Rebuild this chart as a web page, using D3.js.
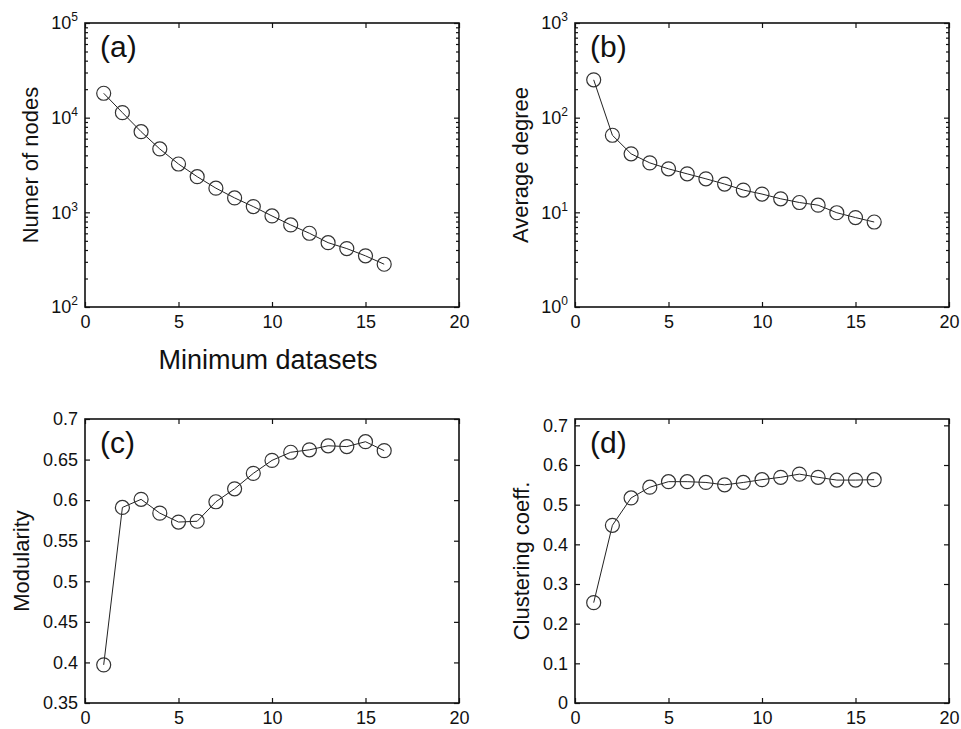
<!DOCTYPE html>
<html>
<head>
<meta charset="utf-8">
<script src="https://cdn.jsdelivr.net/npm/d3@7"></script>
<style>
  body { margin: 0; background: #fff; }
  svg { font-family: "Liberation Sans", Arial, Helvetica, sans-serif; }
  .tick text { font-size: 18px; fill: #111; }
</style>
</head>
<body>
<div id="chart-area"></div>
<script>
// data
var datasets = [1, 2, 3, 4, 5, 6, 7, 8, 9, 10, 11, 12, 13, 14, 15, 16];
var nodes = [18100, 11300, 7110, 4670, 3240, 2380, 1800, 1420, 1150, 916, 736, 601, 478, 414, 347, 283];
var degree = [251, 65.2, 41.5, 33.3, 28.8, 25.5, 22.6, 19.9, 17.2, 15.6, 13.9, 12.7, 11.9, 9.9, 8.8, 7.9];
var modularity = [0.397, 0.591, 0.601, 0.584, 0.573, 0.574, 0.598, 0.614, 0.633, 0.649, 0.659, 0.662, 0.667, 0.666, 0.672, 0.661];
var clustering = [0.253, 0.448, 0.517, 0.544, 0.558, 0.558, 0.556, 0.550, 0.556, 0.563, 0.569, 0.577, 0.569, 0.562, 0.562, 0.563];

var xTicks = [0, 5, 10, 15, 20];
var nodeTicks = [100, 1000, 10000, 100000];
var degreeTicks = [1, 10, 100, 1000];
var modTicks = [0.35, 0.4, 0.45, 0.5, 0.55, 0.6, 0.65, 0.7];
var clusTicks = [0, 0.1, 0.2, 0.3, 0.4, 0.5, 0.6, 0.7];

var width = 961;
var height = 729;

var svg = d3.select("#chart-area").append("svg")
	.attr("width", width)
	.attr("height", height);

var panels = [
	{left: 85, top: 23, w: 374, h: 284, values: nodes, log: true, domain: [100, 100000], ticks: nodeTicks,
	 tag: "(a)", label: "Numer of nodes", labelX: -47},
	{left: 575, top: 23, w: 374, h: 284, values: degree, log: true, domain: [1, 1000], ticks: degreeTicks,
	 tag: "(b)", label: "Average degree", labelX: -47},
	{left: 85, top: 419, w: 374, h: 284, values: modularity, log: false, domain: [0.35, 0.7], ticks: modTicks,
	 tag: "(c)", label: "Modularity", labelX: -56},
	{left: 575, top: 419, w: 374, h: 284, values: clustering, log: false, domain: [0, 0.716], ticks: clusTicks,
	 tag: "(d)", label: "Clustering coeff.", labelX: -46}
];

function minorTicks(domain) {
	var out = [];
	for (var p = domain[0]; p < domain[1]; p *= 10) {
		for (var k = 2; k <= 9; k++) out.push(p * k);
	}
	return out;
}

panels.forEach(function(p) {
	var g = svg.append("g")
		.attr("transform", "translate(" + p.left + "," + p.top + ")");

	var x = d3.scaleLinear().domain([0, 20]).range([0, p.w]);
	var y = (p.log ? d3.scaleLog() : d3.scaleLinear())
		.domain(p.domain)
		.range([p.h, 0]);

	// x axes, ticks pointing inwards
	g.append("g")
		.attr("class", "x axis")
		.attr("transform", "translate(0," + p.h + ")")
		.call(d3.axisBottom(x).tickValues(xTicks).tickSizeInner(-5).tickSizeOuter(0).tickPadding(8)
			.tickFormat(d3.format("d")));
	g.append("g")
		.attr("class", "x axis top")
		.call(d3.axisTop(x).tickValues(xTicks).tickSizeInner(-5).tickSizeOuter(0).tickFormat(""));

	// y axes
	var leftAxis = d3.axisLeft(y).tickValues(p.ticks).tickSizeInner(-5).tickSizeOuter(0).tickPadding(7);
	if (p.log) {
		leftAxis.tickFormat(function() { return ""; });
	} else {
		leftAxis.tickFormat(function(d) { return String(+d.toFixed(2)); });
	}
	var left = g.append("g")
		.attr("class", "y axis")
		.call(leftAxis);
	g.append("g")
		.attr("class", "y axis right")
		.attr("transform", "translate(" + p.w + ",0)")
		.call(d3.axisRight(y).tickValues(p.ticks).tickSizeInner(-5).tickSizeOuter(0).tickFormat(""));

	if (p.log) {
		// 10 with a raised exponent
		left.selectAll(".tick text").each(function(d) {
			var t = d3.select(this);
			t.text(null);
			t.append("tspan").text("10");
			t.append("tspan")
				.attr("dy", "-8")
				.attr("font-size", "12px")
				.text(Math.round(Math.log10(d)));
		});
		var minors = minorTicks(p.domain);
		g.append("g")
			.attr("class", "minor")
			.call(d3.axisLeft(y).tickValues(minors).tickSizeInner(-3).tickSizeOuter(0).tickFormat(""));
		g.append("g")
			.attr("class", "minor")
			.attr("transform", "translate(" + p.w + ",0)")
			.call(d3.axisRight(y).tickValues(minors).tickSizeInner(-3).tickSizeOuter(0).tickFormat(""));
	}

	g.selectAll(".domain").remove();
	g.selectAll(".tick line").attr("stroke", "#111").attr("stroke-width", 1.2);

	g.append("rect")
		.attr("width", p.w)
		.attr("height", p.h)
		.attr("fill", "none")
		.attr("stroke", "#111")
		.attr("stroke-width", 1.6);

	var line = d3.line()
		.x(function(d, i) { return x(datasets[i]); })
		.y(function(d) { return y(d); });

	g.append("path")
		.datum(p.values)
		.attr("d", line)
		.attr("fill", "none")
		.attr("stroke", "#222")
		.attr("stroke-width", 1);

	g.selectAll("circle").data(p.values)
		.enter()
		.append("circle")
		.attr("cx", function(d, i) { return x(datasets[i]); })
		.attr("cy", function(d) { return y(d); })
		.attr("r", 7)
		.attr("fill", "none")
		.attr("stroke", "#333")
		.attr("stroke-width", 1.2);

	g.append("text")
		.attr("x", 15)
		.attr("y", 34)
		.attr("font-size", "30px")
		.attr("fill", "#111")
		.text(p.tag);

	g.append("text")
		.attr("class", "y axis-label")
		.attr("x", -(p.h / 2))
		.attr("y", p.labelX)
		.attr("font-size", "22px")
		.attr("fill", "#111")
		.attr("text-anchor", "middle")
		.attr("transform", "rotate(-90)")
		.text(p.label);
});

svg.append("text")
	.attr("class", "x axis-label")
	.attr("x", 268)
	.attr("y", 369)
	.attr("font-size", "27px")
	.attr("fill", "#111")
	.attr("text-anchor", "middle")
	.text("Minimum datasets");
</script>
</body>
</html>
